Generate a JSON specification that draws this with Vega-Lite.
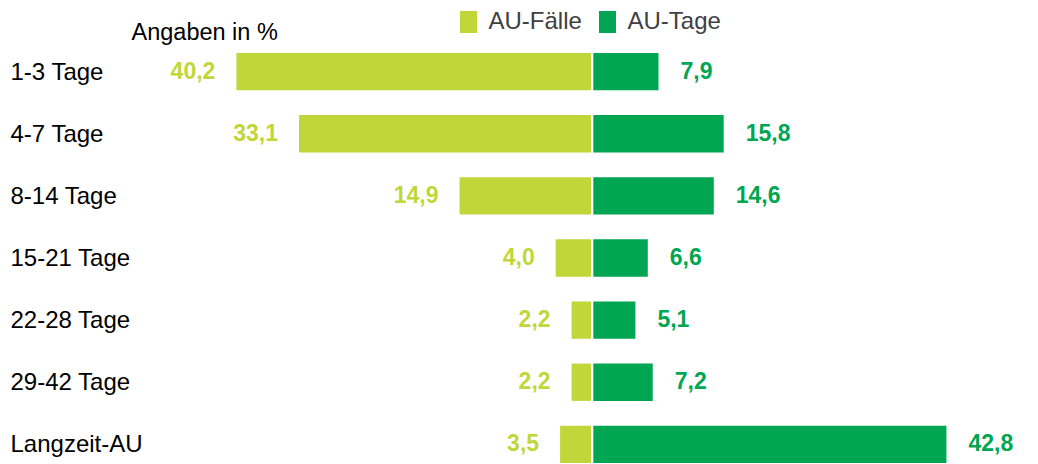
{
  "$schema": "https://vega.github.io/schema/vega-lite/v6.json",
  "width": 1038,
  "height": 410,
  "autosize": {"type": "none"},
  "padding": {"left": 0, "top": 53, "right": 0, "bottom": 1},
  "config": {
    "view": {"stroke": null},
    "font": "Liberation Sans",
    "locale": {"number": {"decimal": ",", "thousands": ".", "grouping": [3], "currency": ["", " €"]}}
  },
  "data": {
    "values": [
      {"kat": "1-3 Tage", "faelle": 40.2, "tage": 7.9},
      {"kat": "4-7 Tage", "faelle": 33.1, "tage": 15.8},
      {"kat": "8-14 Tage", "faelle": 14.9, "tage": 14.6},
      {"kat": "15-21 Tage", "faelle": 4.0, "tage": 6.6},
      {"kat": "22-28 Tage", "faelle": 2.2, "tage": 5.1},
      {"kat": "29-42 Tage", "faelle": 2.2, "tage": 7.2},
      {"kat": "Langzeit-AU", "faelle": 3.5, "tage": 42.8}
    ]
  },
  "encoding": {
    "y": {
      "field": "kat",
      "type": "nominal",
      "sort": null,
      "scale": {"paddingInner": 0.4, "paddingOuter": 0},
      "axis": {
        "title": "Angaben in %",
        "titleAngle": 0,
        "titleX": 131,
        "titleY": -14,
        "titleAlign": "left",
        "titleBaseline": "alphabetic",
        "titleFontSize": 23.5,
        "titleFontWeight": "normal",
        "titleColor": "black",
        "titleFont": "Liberation Sans",
        "labelAlign": "left",
        "labelBaseline": "middle",
        "labelPadding": -10,
        "labelOffset": 1,
        "labelFontSize": 24,
        "labelColor": "black",
        "labelFont": "Liberation Sans",
        "ticks": false,
        "domain": false,
        "grid": false
      }
    }
  },
  "layer": [
    {
      "mark": {"type": "bar"},
      "encoding": {
        "x": {"field": "faelle", "type": "quantitative", "scale": {"domain": [-50.68, 67.0], "reverse": true, "nice": false, "zero": false}, "axis": null},
        "x2": {"datum": 0},
        "color": {
          "datum": "AU-Fälle",
          "type": "nominal",
          "scale": {"domain": ["AU-Fälle", "AU-Tage"], "range": ["#BFD739", "#00A651"]},
          "legend": {
            "orient": "none",
            "legendX": 456.5,
            "legendY": -43,
            "direction": "horizontal",
            "columns": 2,
            "title": null,
            "symbolType": "M-0.773,-1H0.773V1H-0.773Z",
            "symbolSize": 484,
            "symbolStrokeWidth": 0,
            "symbolOpacity": 1,
            "labelFontSize": 24,
            "labelColor": "#404040",
            "labelFont": "Liberation Sans",
            "labelOffset": 8,
            "columnPadding": 13,
            "padding": 0
          }
        }
      }
    },
    {
      "mark": {"type": "text", "align": "right", "baseline": "middle", "dx": -21, "fontWeight": "bold", "fontSize": 23, "color": "#BFD739"},
      "encoding": {
        "x": {"field": "faelle", "type": "quantitative", "scale": {"domain": [-50.68, 67.0], "reverse": true, "nice": false, "zero": false}, "axis": null},
        "text": {"field": "faelle", "type": "quantitative", "format": ".1f"}
      }
    },
    {
      "mark": {"type": "bar"},
      "encoding": {
        "x": {"field": "tage", "type": "quantitative", "scale": {"domain": [-71.92, 53.9], "nice": false, "zero": false}, "axis": null},
        "x2": {"datum": 0},
        "color": {"datum": "AU-Tage", "type": "nominal"}
      }
    },
    {
      "mark": {"type": "text", "align": "left", "baseline": "middle", "dx": 22, "fontWeight": "bold", "fontSize": 23, "color": "#00A651"},
      "encoding": {
        "x": {"field": "tage", "type": "quantitative", "scale": {"domain": [-71.92, 53.9], "nice": false, "zero": false}, "axis": null},
        "text": {"field": "tage", "type": "quantitative", "format": ".1f"}
      }
    }
  ],
  "resolve": {"scale": {"x": "independent"}}
}
